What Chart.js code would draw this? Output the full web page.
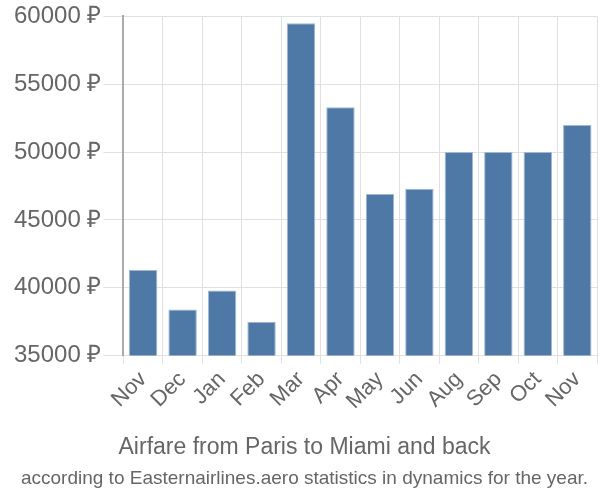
<!DOCTYPE html>
<html>
<head>
<meta charset="utf-8">
<script src="https://cdn.jsdelivr.net/npm/chart.js@4/dist/chart.umd.min.js"></script>
<style>
  html, body { margin: 0; padding: 0; background: #fff; }
  #box { width: 600px; height: 500px; }
</style>
</head>
<body>
<div id="box"><canvas id="graficoPrecos"></canvas></div>
<script>
// dados
const meses = ['Nov', 'Dec', 'Jan', 'Feb', 'Mar', 'Apr', 'May', 'Jun', 'Aug', 'Sep', 'Oct', 'Nov'];
const precos = [41300, 38400, 39800, 37500, 59500, 53300, 46900, 47300, 50000, 50000, 50000, 52000];
const eixoMin = 35000;
const eixoMax = 60000;
const passo = 5000;

const ctx = document.getElementById('graficoPrecos').getContext('2d');
const grafico = new Chart(ctx, {
    type: 'bar',
    data: {
        labels: meses,
        datasets: [{
            label: 'Price',
            data: precos,
            backgroundColor: 'rgb(78, 121, 167)',
            borderColor: 'rgb(160, 184, 210)',
            borderWidth: 1
        }]
    },
    options: {
        responsive: true,
        maintainAspectRatio: false,
        animation: false,
        layout: { padding: { left: 12, right: 3, top: 4 } },
        plugins: {
            legend: { display: false },
            tooltip: { enabled: false },
            title: {
                display: true,
                position: 'bottom',
                text: 'Airfare from Paris to Miami and back',
                color: '#666',
                weight: 500,
                font: { family: 'Liberation Sans', size: 23, weight: 'normal' },
                padding: { top: 16, bottom: 4 }
            },
            subtitle: {
                display: true,
                position: 'bottom',
                text: 'according to Easternairlines.aero statistics in dynamics for the year.',
                color: '#666',
                weight: 1000,
                font: { family: 'Liberation Sans', size: 19, weight: 'normal' },
                padding: { top: 2, bottom: 10 }
            }
        },
        scales: {
            x: {
                grid: { color: '#e0e0e0', lineWidth: 1, offset: true, tickLength: 8 },
                border: { color: '#e0e0e0' },
                ticks: {
                    color: '#666',
                    font: { family: 'Liberation Sans', size: 22 },
                    maxRotation: 45,
                    minRotation: 45,
                    autoSkip: false
                }
            },
            y: {
                min: eixoMin,
                max: eixoMax,
                grid: { color: '#e0e0e0', lineWidth: 1, tickLength: 20 },
                border: { color: '#aaa', width: 2 },
                ticks: {
                    stepSize: passo,
                    color: '#666',
                    font: { family: 'Liberation Sans', size: 24 },
                    padding: 2,
                    callback: (v) => v + ' ₽'
                }
            }
        }
    }
});
</script>
</body>
</html>
